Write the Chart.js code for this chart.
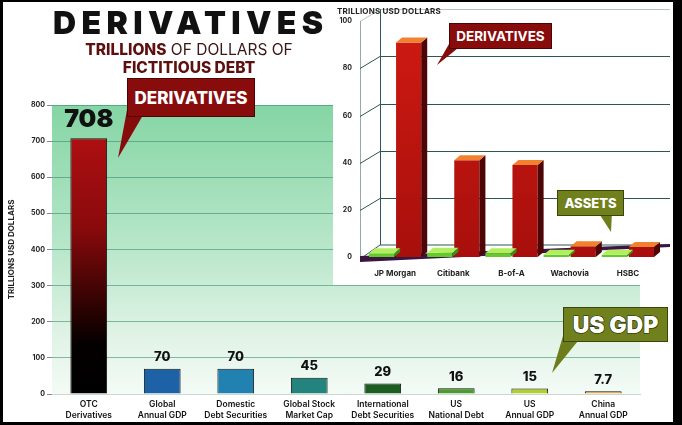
<!DOCTYPE html>
<html><head><meta charset="utf-8">
<script src="https://cdn.jsdelivr.net/npm/chart.js@4"></script>
<style>
html,body{margin:0;padding:0;background:#fff;}
#wrap{position:relative;width:682px;height:425px;overflow:hidden;background:#fff;font-family:Inter,'DejaVu Sans',sans-serif;}
#frame{position:absolute;left:0;top:0;width:682px;height:425px;box-sizing:border-box;border-style:solid;border-color:#000;border-width:2px 9px 3px 3px;pointer-events:none;z-index:30;}
#mainC{position:absolute;left:0;top:0;}
#insetBox{position:absolute;left:333px;top:3px;width:340px;height:282px;background:#fff;z-index:5;}
#insetC{position:absolute;left:0;top:0;}
.t{position:absolute;white-space:nowrap;z-index:10;}
.box{position:absolute;box-sizing:border-box;display:flex;align-items:center;justify-content:center;color:#fff;font-weight:800;z-index:12;}
.tail{position:absolute;z-index:11;}
</style></head>
<body>
<div id="wrap">
  <canvas id="mainC" width="682" height="425"></canvas>

  <div class="t" id="title" style="left:53px;top:3px;font-size:32px;font-weight:900;letter-spacing:5.4px;color:#111;">DERIVATIVES</div>
  <div class="t" style="left:0;width:378px;text-align:center;top:40px;font-size:15.5px;color:#3a1616;"><b style="color:#5e1010;font-weight:800">TRILLIONS</b> OF DOLLARS OF</div>
  <div class="t" style="left:0;width:378px;text-align:center;top:58px;font-size:15.5px;font-weight:800;color:#5e1010;">FICTITIOUS DEBT</div>

  <div class="tail" style="left:112px;top:110px;width:40px;height:52px;background:#860b0b;clip-path:polygon(15px 0,34px 0,6px 48px);"></div>
  <div class="box" style="left:127px;top:78px;width:128px;height:39px;background:#880c0c;border:1px solid #4d0303;font-size:17px;">DERIVATIVES</div>

  <div class="tail" style="left:548px;top:336px;width:40px;height:40px;background:#6d7d1b;clip-path:polygon(15px 0,34px 0,4px 37px);"></div>
  <div class="box" style="left:563px;top:307px;width:105px;height:35px;background:#6f801c;border:1px solid #3b4508;font-size:23px;font-weight:900;-webkit-text-stroke:1.2px #232a00;paint-order:stroke fill;">US GDP</div>

  <div id="insetBox">
    <canvas id="insetC" width="340" height="282"></canvas>
  </div>
  <div class="t" style="left:337px;top:6px;font-size:8px;font-weight:700;color:#222;letter-spacing:0.2px;">TRILLIONS USD DOLLARS</div>

  <div class="tail" style="left:433px;top:44px;width:36px;height:24px;background:#860b0b;clip-path:polygon(16px 0,30px 0,4px 21px);"></div>
  <div class="box" style="left:449px;top:23px;width:103px;height:26px;background:#880c0c;border:1px solid #4d0303;font-size:13.5px;font-weight:700;">DERIVATIVES</div>

  <div class="tail" style="left:594px;top:212px;width:24px;height:22px;background:#6d7d1b;clip-path:polygon(4px 0,18px 0,17px 20px);"></div>
  <div class="box" style="left:557px;top:190px;width:67px;height:26px;background:#6f801c;border:1px solid #3b4508;font-size:13px;">ASSETS</div>

  <div id="frame"></div>
</div>
<script>
// ---------- DATA ----------
const mainCategories = [["OTC","Derivatives"],["Global","Annual GDP"],["Domestic","Debt Securities"],["Global Stock","Market Cap"],["International","Debt Securities"],["US","National Debt"],["US","Annual GDP"],["China","Annual GDP"]];
const mainValues = [708, 70, 70, 45, 29, 16, 15, 7.7];
const mainValueLabels = ["708","70","70","45","29","16","15","7.7"];
const mainTickValues = [0,100,200,300,400,500,600,700,800];

const bankCategories = ["JP Morgan","Citibank","B-of-A","Wachovia","HSBC"];
const bankAssets = [1.6, 1.8, 1.6, 1.0, 1.0];
const bankDerivatives = [91, 41, 39, 4.6, 4.2];
const bankTickValues = [0,20,40,60,80,100];

// ---------- STYLES ----------
const FONT = "Inter, 'DejaVu Sans', sans-serif";
const mainColors = ['#9e0e10','#1d62a6','#2182b2','#23847d','#1e5d21','#4c9a2f','#b3ce31','#e3a33a'];

const mainBg = {
  id:'mainBg',
  beforeDraw(chart){
    const {ctx, chartArea:a} = chart;
    const g = ctx.createLinearGradient(0,a.top,0,a.bottom);
    g.addColorStop(0,'#85d5a4');
    g.addColorStop(0.45,'#b3e5c6');
    g.addColorStop(0.8,'#e0f3e6');
    g.addColorStop(1,'#f4fbf6');
    ctx.save(); ctx.fillStyle=g; ctx.fillRect(a.left,a.top,a.right-a.left,a.bottom-a.top); ctx.restore();
  }
};
const mainLabels = {
  id:'mainLabels',
  afterDatasetsDraw(chart){
    const {ctx} = chart;
    const meta = chart.getDatasetMeta(0);
    ctx.save(); ctx.fillStyle='#111'; ctx.textAlign='center'; ctx.textBaseline='bottom';
    meta.data.forEach((el,i)=>{
      if(i===0){ ctx.font = "900 25px "+FONT; ctx.fillText(mainValueLabels[i], el.x, el.y-6); }
      else { ctx.font = "800 13px "+FONT; ctx.fillText(mainValueLabels[i], el.x, el.y-5); }
    });
    ctx.restore();
  }
};

new Chart(document.getElementById('mainC'), {
  type:'bar',
  data:{ labels: mainCategories, datasets:[{
    data: mainValues,
    backgroundColor(c){
      const i=c.dataIndex;
      if(i===0){
        const ch=c.chart; if(!ch.chartArea) return mainColors[0];
        const y=ch.scales.y;
        const g=ch.ctx.createLinearGradient(0,y.getPixelForValue(mainValues[0]),0,y.getPixelForValue(0));
        g.addColorStop(0,'#ad0f12'); g.addColorStop(0.35,'#8a0a0c'); g.addColorStop(0.62,'#3a0303'); g.addColorStop(0.8,'#050000'); g.addColorStop(1,'#000');
        return g;
      }
      return mainColors[i];
    },
    borderColor:'#151515', borderWidth:1,
    barPercentage:0.5, categoryPercentage:1.0
  }]},
  options:{
    responsive:false, animation:false, events:[],
    layout:{padding:{left:5,top:105,right:42,bottom:0}},
    plugins:{legend:{display:false}, tooltip:{enabled:false}},
    scales:{
      x:{
        grid:{display:false, drawTicks:false},
        border:{display:true,color:'#c9d9d0'},
        ticks:{font:{family:FONT,size:8.5,weight:'600',lineHeight:1.25},color:'#111',maxRotation:0,autoSkip:false,padding:5},
        afterFit(s){ s.height=31; }
      },
      y:{
        min:0,max:800,
        afterBuildTicks(s){ s.ticks = mainTickValues.map(v=>({value:v})); },
        grid:{color:'rgba(45,135,105,0.55)',lineWidth:1,tickLength:5,tickColor:'#889'},
        border:{display:false},
        ticks:{font:{family:FONT,size:7,weight:'700'},color:'#222',padding:2,autoSkip:false},
        title:{display:true,text:'TRILLIONS USD DOLLARS',font:{family:FONT,size:8,weight:'700'},color:'#222',padding:{top:2,bottom:0}},
        afterFit(s){ s.width=47; }
      }
    }
  },
  plugins:[mainBg, mainLabels]
});

// ---------- INSET ----------
const DX=20, DY=-12, BX=6, BY=-5;
const insetWall = {
  id:'insetWall',
  beforeDatasetsDraw(chart){
    const {ctx, chartArea:a, scales:{y}} = chart;
    const fl = a.left-6, bl = a.left+14, br = 337;
    const y0=y.getPixelForValue(0);
    ctx.save();
    ctx.strokeStyle='#2c5654'; ctx.lineWidth=1;
    ctx.beginPath(); ctx.moveTo(bl+0.5, y.getPixelForValue(100)+DY); ctx.lineTo(bl+0.5, y0+DY); ctx.stroke();
    bankTickValues.forEach(v=>{
      const fy=Math.round(y.getPixelForValue(v))+0.5;
      if(v>0){
        ctx.strokeStyle = v===100 ? 'rgba(44,86,84,0.35)' : '#2c5654';
        ctx.beginPath(); ctx.moveTo(bl,fy+DY); ctx.lineTo(br,fy+DY); ctx.stroke();
        ctx.beginPath(); ctx.moveTo(fl,fy); ctx.lineTo(bl,fy+DY); ctx.stroke();
      }
    });
    ctx.strokeStyle='rgba(44,86,84,0.5)';
    ctx.beginPath(); ctx.moveTo(fl+0.5,y.getPixelForValue(100)); ctx.lineTo(fl+0.5,y0); ctx.stroke();
    ctx.strokeStyle='#2c5654';
    ctx.beginPath(); ctx.moveTo(fl,y0+2); ctx.lineTo(bl,y0+DY); ctx.lineTo(br,y0+DY); ctx.stroke();
    // floor band
    ctx.fillStyle='#3a1640';
    ctx.beginPath(); ctx.moveTo(fl,y0-1); ctx.lineTo(br,y0+DY-1); ctx.lineTo(br,y0+DY+2); ctx.lineTo(fl,y0+5); ctx.closePath(); ctx.fill();
    ctx.restore();
  },
  afterDatasetDraw(chart,args){
    const {ctx} = chart;
    const top = args.index===0 ? '#b2ef5e' : '#f2812f';
    const side = args.index===0 ? '#3f8d1b' : '#4e0505';
    args.meta.data.forEach(el=>{
      const l=el.x-el.width/2, r=el.x+el.width/2, t=el.y, b=el.base;
      ctx.save();
      ctx.fillStyle=side;
      ctx.beginPath(); ctx.moveTo(r,t); ctx.lineTo(r+BX,t+BY); ctx.lineTo(r+BX,b+BY); ctx.lineTo(r,b); ctx.closePath(); ctx.fill();
      ctx.fillStyle=top;
      ctx.beginPath(); ctx.moveTo(l,t); ctx.lineTo(r,t); ctx.lineTo(r+BX,t+BY); ctx.lineTo(l+BX,t+BY); ctx.closePath(); ctx.fill();
      ctx.restore();
    });
  }
};

new Chart(document.getElementById('insetC'), {
  type:'bar',
  data:{ labels: bankCategories, datasets:[
    {label:'Assets', data: bankAssets, backgroundColor:'#63c92c', borderWidth:0, barPercentage:0.93, categoryPercentage:0.93},
    {label:'Derivatives', data: bankDerivatives,
     backgroundColor(c){
       const ch=c.chart; if(!ch.chartArea) return '#c0160f';
       const g=ch.ctx.createLinearGradient(0,ch.chartArea.top,0,ch.chartArea.bottom);
       g.addColorStop(0,'#cf1a12'); g.addColorStop(1,'#a80f0c'); return g;
     },
     borderWidth:0, barPercentage:0.93, categoryPercentage:0.93}
  ]},
  options:{
    responsive:false, animation:false, events:[],
    layout:{padding:{left:0,top:17,right:16,bottom:0}},
    plugins:{legend:{display:false}, tooltip:{enabled:false}},
    scales:{
      x:{
        grid:{display:false, drawTicks:false}, border:{display:false},
        ticks:{font:{family:FONT,size:8,weight:'700'},color:'#222',padding:12,maxRotation:0,autoSkip:false},
        afterFit(s){ s.height=28; }
      },
      y:{
        min:0,max:100,
        afterBuildTicks(s){ s.ticks = bankTickValues.map(v=>({value:v})); },
        grid:{display:false, drawTicks:false}, border:{display:false},
        ticks:{font:{family:FONT,size:7,weight:'700'},color:'#222',padding:14,autoSkip:false},
        afterFit(s){ s.width=33; }
      }
    }
  },
  plugins:[insetWall]
});
</script>
</body></html>
